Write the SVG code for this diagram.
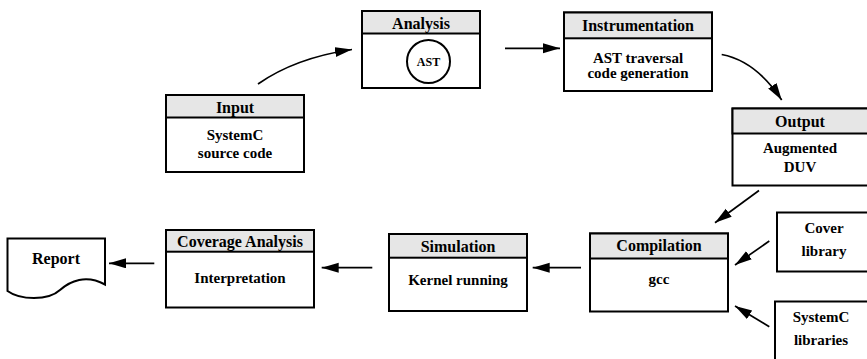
<svg xmlns="http://www.w3.org/2000/svg" width="867" height="359" viewBox="0 0 867 359" font-family="'Liberation Serif', 'DejaVu Serif', serif" font-weight="bold">
<style>
.box{fill:#fff;stroke:#000;stroke-width:2}
.hdr{fill:#e6e6e6;stroke:#000;stroke-width:2}
text{font-family:'Liberation Serif','DejaVu Serif',serif;font-weight:bold;fill:#000;text-anchor:middle}
.h{font-size:16px}
.b{font-size:15px}
.conn{fill:none;stroke:#000;stroke-width:1.7}
</style>
<defs>
<marker id="ah" markerUnits="userSpaceOnUse" markerWidth="20" markerHeight="12" refX="17" refY="5" orient="auto">
<path d="M0,0 L17,5 L0,10 Z" fill="#000"/>
</marker>
</defs>
<rect width="867" height="359" fill="#fff"/>

<g id="input">
<rect class="box" x="166" y="95" width="138" height="77"/>
<rect class="hdr" x="166" y="95" width="138" height="22.5"/>
<text class="h" x="235" y="112.5">Input</text>
<text class="b" x="235" y="139.5">SystemC</text>
<text class="b" x="235" y="158">source code</text>
</g>

<g id="analysis">
<rect class="box" x="362" y="11" width="118" height="77"/>
<rect class="hdr" x="362" y="11" width="118" height="22.5"/>
<text class="h" x="421" y="28.5">Analysis</text>
<circle cx="428.5" cy="61.5" r="21.5" fill="#fff" stroke="#000" stroke-width="2"/>
<text x="428.5" y="65.8" style="font-size:12px">AST</text>
</g>

<g id="instrumentation">
<rect class="box" x="564" y="12.5" width="148" height="78.5"/>
<rect class="hdr" x="564" y="12.5" width="148" height="25.8"/>
<text class="h" x="638" y="31">Instrumentation</text>
<text class="b" x="638" y="62.5">AST traversal</text>
<text class="b" x="638" y="77.5">code generation</text>
</g>

<g id="output">
<rect class="box" x="732.5" y="108.5" width="140" height="77"/>
<rect class="hdr" x="732.5" y="108.5" width="140" height="25"/>
<text class="h" x="800" y="126.7">Output</text>
<text class="b" x="800" y="153.3">Augmented</text>
<text class="b" x="800" y="171.5">DUV</text>
</g>

<g id="compilation">
<rect class="box" x="590" y="233.5" width="138" height="78"/>
<rect class="hdr" x="590" y="233.5" width="138" height="25"/>
<text class="h" x="659" y="251">Compilation</text>
<text class="b" x="659" y="284">gcc</text>
</g>

<g id="cover-library">
<rect class="box" x="777" y="212.5" width="95" height="59"/>
<text class="b" x="824" y="233.3">Cover</text>
<text class="b" x="824" y="256">library</text>
</g>

<g id="systemc-libraries">
<rect class="box" x="775" y="301.5" width="95" height="70"/>
<text class="b" x="821" y="321.7">SystemC</text>
<text class="b" x="821" y="345">libraries</text>
</g>

<g id="simulation">
<rect class="box" x="389" y="234" width="138" height="77"/>
<rect class="hdr" x="389" y="234" width="138" height="23.7"/>
<text class="h" x="458" y="251.7">Simulation</text>
<text class="b" x="458" y="285">Kernel running</text>
</g>

<g id="coverage-analysis">
<rect class="box" x="166" y="230" width="148" height="77.5"/>
<rect class="hdr" x="166" y="230" width="148" height="21.7"/>
<text class="h" x="240" y="246.7">Coverage Analysis</text>
<text class="b" x="240" y="282.7">Interpretation</text>
</g>

<g id="report">
<path class="box" d="M7.5,238.5 H105 V284.5 C86,274 70,281 60,290 C48,301 20,300 7.5,291 Z"/>
<text class="h" x="56" y="264.3">Report</text>
</g>

<g id="connectors">
<path class="conn" d="M258,84 Q295,58 352,49.5" marker-end="url(#ah)"/>
<path class="conn" d="M505,48.3 L560,48.3" marker-end="url(#ah)"/>
<path class="conn" d="M721.7,54.5 Q756,61 781.7,100" marker-end="url(#ah)"/>
<path class="conn" d="M759,190.5 L715,222.7" marker-end="url(#ah)"/>
<path class="conn" d="M769.3,241 L735,265" marker-end="url(#ah)"/>
<path class="conn" d="M769.3,326.7 L735,306" marker-end="url(#ah)"/>
<path class="conn" d="M581,267.7 L532.7,267.7" marker-end="url(#ah)"/>
<path class="conn" d="M372.3,267.7 L321.7,267.7" marker-end="url(#ah)"/>
<path class="conn" d="M154.3,263.3 L109,263.3" marker-end="url(#ah)"/>
</g>
</svg>
